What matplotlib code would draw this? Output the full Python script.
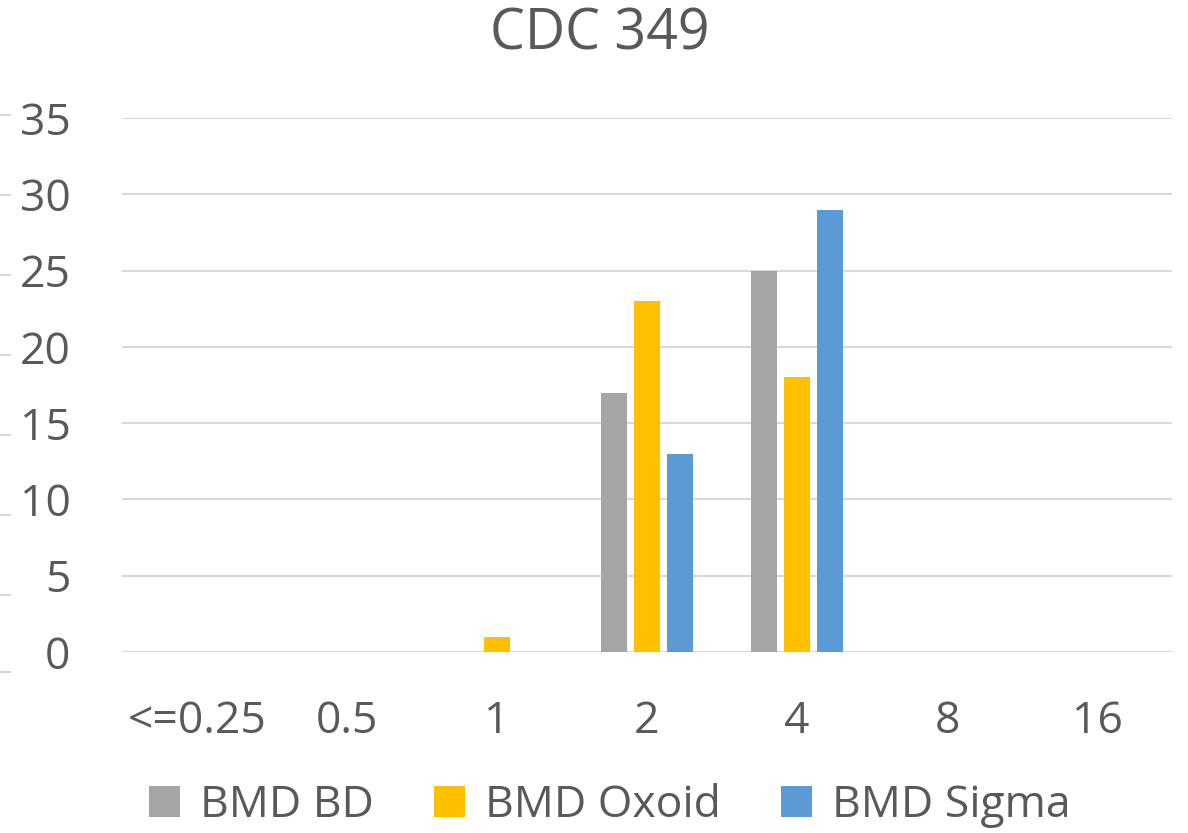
import matplotlib
matplotlib.use("Agg")
import matplotlib.pyplot as plt
import numpy as np
from matplotlib.lines import Line2D

categories = ["<=0.25", "0.5", "1", "2", "4", "8", "16"]
series_names = ["BMD BD", "BMD Oxoid", "BMD Sigma"]
bmd_bd = [0, 0, 0, 17, 25, 0, 0]
bmd_oxoid = [0, 0, 1, 23, 18, 0, 0]
bmd_sigma = [0, 0, 0, 13, 29, 0, 0]
colors = ["#A5A5A5", "#FFC000", "#5B9BD5"]
yticks = [0, 5, 10, 15, 20, 25, 30, 35]

plt.rcParams['font.family'] = ['Open Sans', 'DejaVu Sans']
txt = "#595959"

fig = plt.figure(figsize=(11.88, 8.33), dpi=100)
ax = fig.add_axes([122/1188, 1 - 652/833, 1050/1188, 534/833])

x = np.arange(len(categories))
w = 0.175
step = 0.22
for i, (vals, name, c) in enumerate(zip([bmd_bd, bmd_oxoid, bmd_sigma], series_names, colors)):
    ax.bar(x + (i - 1) * step, vals, width=w, color=c, label=name, zorder=3)

ax.set_xlim(-0.5, len(categories) - 0.5)
ax.set_ylim(0, 35)
ax.set_yticks(yticks)
ax.set_yticklabels([str(v) for v in yticks], fontsize=32, color=txt)
ax.set_xticks(x)
ax.set_xticklabels(categories, fontsize=32, color=txt)
ax.tick_params(axis='both', length=0)
ax.tick_params(axis='y', pad=37)
ax.tick_params(axis='x', pad=34)
for s in ax.spines.values():
    s.set_visible(False)
ax.grid(axis='y', color="#D9D9D9", linewidth=1.5, zorder=0)
ax.set_axisbelow(True)
ax.axhline(0, color="#D9D9D9", linewidth=2, zorder=2)

fig.text(0.505, 1 - 35/833, "CDC 349", ha='center', va='center', fontsize=40, color=txt)

leg = fig.legend(loc='center', bbox_to_anchor=(0.513, 1 - 806/833), ncol=3, frameon=False,
                 fontsize=32, handlelength=0.7, handleheight=0.7, handletextpad=0.45,
                 columnspacing=1.35, labelcolor=txt)

# short grey marks at left edge (neighbouring chart remnants)
for yy in [115, 195, 275, 355, 435, 515, 595, 672]:
    fig.add_artist(Line2D([0, 10/1188], [1 - yy/833, 1 - yy/833], color="#D9D9D9", lw=1.5,
                          transform=fig.transFigure))

fig.savefig("out.png", dpi=100, facecolor="white")
